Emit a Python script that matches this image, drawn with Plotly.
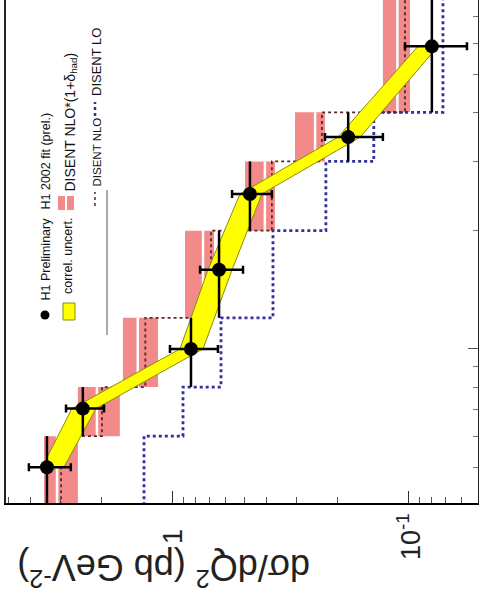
import math
import plotly.graph_objects as go

# ---------------- data ----------------
q2_edges = [4, 6, 8, 12, 20, 30, 40, 100]
q2_data = [5.0, 7.05, 10.0, 15.9, 24.8, 34.6, 58.9]
xsec_data = [3.42, 2.41, 0.839, 0.638, 0.472, 0.181, 0.080]
xsec_tot_hi = [4.08, 2.84, 1.03, 0.768, 0.562, 0.227, 0.104]
xsec_tot_lo = [2.71, 1.96, 0.645, 0.505, 0.381, 0.129, 0.0568]
band_hi = [3.59, 2.68, 0.934, 0.711, 0.520, 0.200, 0.0916]
band_lo = [2.90, 2.12, 0.746, 0.562, 0.420, 0.161, 0.0754]
nlo_had_hi = [3.52, 2.53, 1.63, 0.889, 0.495, 0.304, 0.129]
nlo_had_lo = [2.53, 1.68, 1.158, 0.670, 0.370, 0.227, 0.099]
nlo_had_c = [3.10, 2.10, 1.41, 0.746, 0.408, 0.250, 0.112]
nlo = [2.98, 2.00, 1.31, 0.690, 0.381, 0.234, 0.104]
lo = [1.327, 0.907, 0.626, 0.377, 0.225, 0.141, 0.0718]

x_ticks = [1, 0.1]
x_ticktext = ["1", "10<sup>-1</sup>"]
x_minor = [0.06, 0.07, 0.08, 0.09, 0.2, 0.3, 0.4, 0.5, 0.6, 0.7, 0.8, 0.9, 2, 3, 4, 5]
y_ticks = [10]
y_minor = [5, 6, 7, 8, 9, 20, 30, 40, 50, 60, 70]

PINK = "#f38a8a"
YEL = "#ffff00"
BLUE = "#30309e"
DARK = "#5a2626"
SANS = "Liberation Sans, Arial, sans-serif"

W, H = 479, 611
ML, MR, MT, MB = 6, 1, 0, 108
PW, PH = W - ML - MR, H - MT - MB


def px(x):
    return (x - ML) / PW


def py(y):
    return (MT + PH - y) / PH


fig = go.Figure()

# pink NLO*(1+delta_had) boxes
bx, by = [], []
for i in range(len(nlo_had_hi)):
    lo_e, hi_e = q2_edges[i], q2_edges[i + 1]
    bx += [nlo_had_hi[i], nlo_had_lo[i], nlo_had_lo[i], nlo_had_hi[i], nlo_had_hi[i], None]
    by += [lo_e, lo_e, hi_e, hi_e, lo_e, None]
fig.add_trace(go.Scatter(x=bx, y=by, mode="lines", fill="toself", fillcolor=PINK,
                         line=dict(width=0, color=PINK), hoverinfo="skip"))

# white central lines
cx, cy = [], []
for i in range(len(nlo_had_c)):
    cx += [nlo_had_c[i], nlo_had_c[i], None]
    cy += [q2_edges[i], q2_edges[i + 1], None]
fig.add_trace(go.Scatter(x=cx, y=cy, mode="lines", line=dict(color="white", width=2.5),
                         hoverinfo="skip"))


def steps(vals):
    sx, sy = [], []
    for i, v in enumerate(vals):
        sx += [v, v]
        sy += [q2_edges[i], q2_edges[i + 1]]
    return sx, sy


# DISENT NLO (dark dotted)
sx, sy = steps(nlo)
fig.add_trace(go.Scatter(x=sx, y=sy, mode="lines", line=dict(color=DARK, width=1.8, dash="dot"),
                         hoverinfo="skip"))

# DISENT LO (blue dotted)
sx, sy = steps(lo)
fig.add_trace(go.Scatter(x=sx, y=sy, mode="lines", line=dict(color=BLUE, width=2.8, dash="dot"),
                         hoverinfo="skip"))

# correlated uncertainty band
fig.add_trace(go.Scatter(x=band_hi + band_lo[::-1], y=q2_data + q2_data[::-1], mode="lines",
                         fill="toself", fillcolor=YEL, line=dict(color="#8a8a10", width=1),
                         hoverinfo="skip"))

# data
fig.add_trace(go.Scatter(
    x=xsec_data, y=q2_data, mode="markers",
    marker=dict(color="black", size=14),
    error_x=dict(type="data", symmetric=False,
                 array=[h - v for h, v in zip(xsec_tot_hi, xsec_data)],
                 arrayminus=[v - l for l, v in zip(xsec_tot_lo, xsec_data)],
                 color="black", thickness=2.5, width=4),
    error_y=dict(type="data", symmetric=False,
                 array=[q2_edges[i + 1] - q for i, q in enumerate(q2_data)],
                 arrayminus=[q - q2_edges[i] for i, q in enumerate(q2_data)],
                 color="black", thickness=2.5, width=0),
    hoverinfo="skip"))

fig.update_layout(
    width=W, height=H, margin=dict(l=ML, r=MR, t=MT, b=MB),
    paper_bgcolor="white", plot_bgcolor="white", showlegend=False,
    xaxis=dict(type="log", range=[0.7076, -1.2924], showgrid=False, zeroline=False,
               showline=True, linecolor="black", linewidth=2,
               ticks="inside", ticklen=12, tickwidth=1.2, tickcolor="#333",
               tickmode="array", tickvals=x_ticks, showticklabels=False,
               minor=dict(tickmode="array", tickvals=x_minor, ticks="inside", ticklen=6,
                          tickwidth=1, tickcolor="#555", showgrid=False)),
    yaxis=dict(type="log", range=[0.608, 1.888], side="right", showgrid=False, zeroline=False,
               showline=True, linecolor="#222", linewidth=2, mirror=True,
               ticks="inside", ticklen=10, tickwidth=1, tickcolor="#555",
               tickmode="array", tickvals=y_ticks, showticklabels=False,
               minor=dict(tickmode="array", tickvals=y_minor, ticks="inside", ticklen=5,
                          tickwidth=1, tickcolor="#777", showgrid=False)),
)

ann = []
# tick labels of the cross-section axis (rotated, centred below the axis); log axis -> log10 position
for v, t in zip(x_ticks, x_ticktext):
    ann.append(dict(text=t, textangle=-90, x=math.log10(v), xref="x", y=py(536), yref="paper",
                    xanchor="center", yanchor="middle", showarrow=False,
                    font=dict(size=27, family=SANS, color="#222")))

ann.append(dict(text="dσ/dQ<sup>2</sup> (pb GeV<sup>-2</sup>)", textangle=180,
                x=px(164), y=py(570), xref="paper", yref="paper", xanchor="center", yanchor="middle",
                showarrow=False, font=dict(size=36, family=SANS, color="#222")))

legend_texts = [
    ("H1 Preliminary", 45, 303, 12.5),
    ("H1 2002 fit (prel.)", 45, 212, 12.5),
    ("correl. uncert.", 68, 296, 12.5),
    ("DISENT NLO*(1+δ<sub>had</sub>)", 70, 194, 14),
    ("DISENT NLO", 96, 189, 11.5),
    ("DISENT LO", 96, 98, 13),
]
for t, x, y, s in legend_texts:
    ann.append(dict(text=t, textangle=-90, x=px(x), y=py(y), xref="paper", yref="paper",
                    xanchor="center", yanchor="bottom", showarrow=False,
                    font=dict(size=s, family=SANS, color="#111")))
fig.update_layout(annotations=ann)

shapes = []
shapes.append(dict(type="circle", xref="paper", yref="paper", x0=px(40.5), x1=px(49.5), y0=py(319.5), y1=py(310.5),
                   fillcolor="black", line=dict(width=0)))
shapes.append(dict(type="rect", xref="paper", yref="paper", x0=px(63), x1=px(75), y0=py(320), y1=py(303),
                   fillcolor=YEL, line=dict(color="#8a8a10", width=1)))
shapes.append(dict(type="rect", xref="paper", yref="paper", x0=px(58), x1=px(74), y0=py(210), y1=py(196),
                   fillcolor=PINK, line=dict(width=0)))
shapes.append(dict(type="line", xref="paper", yref="paper", x0=px(66), x1=px(66), y0=py(210), y1=py(196),
                   line=dict(color="white", width=2)))
shapes.append(dict(type="line", xref="paper", yref="paper", x0=px(95), x1=px(95), y0=py(206), y1=py(192),
                   line=dict(color=DARK, width=1.5, dash="dot")))
shapes.append(dict(type="line", xref="paper", yref="paper", x0=px(95), x1=px(95), y0=py(116), y1=py(102),
                   line=dict(color=BLUE, width=2.5, dash="dot")))
shapes.append(dict(type="line", xref="paper", yref="paper", x0=px(107), x1=px(107), y0=py(335), y1=py(190),
                   line=dict(color="#555", width=1)))
fig.update_layout(shapes=shapes)

fig.write_html("out.html")
